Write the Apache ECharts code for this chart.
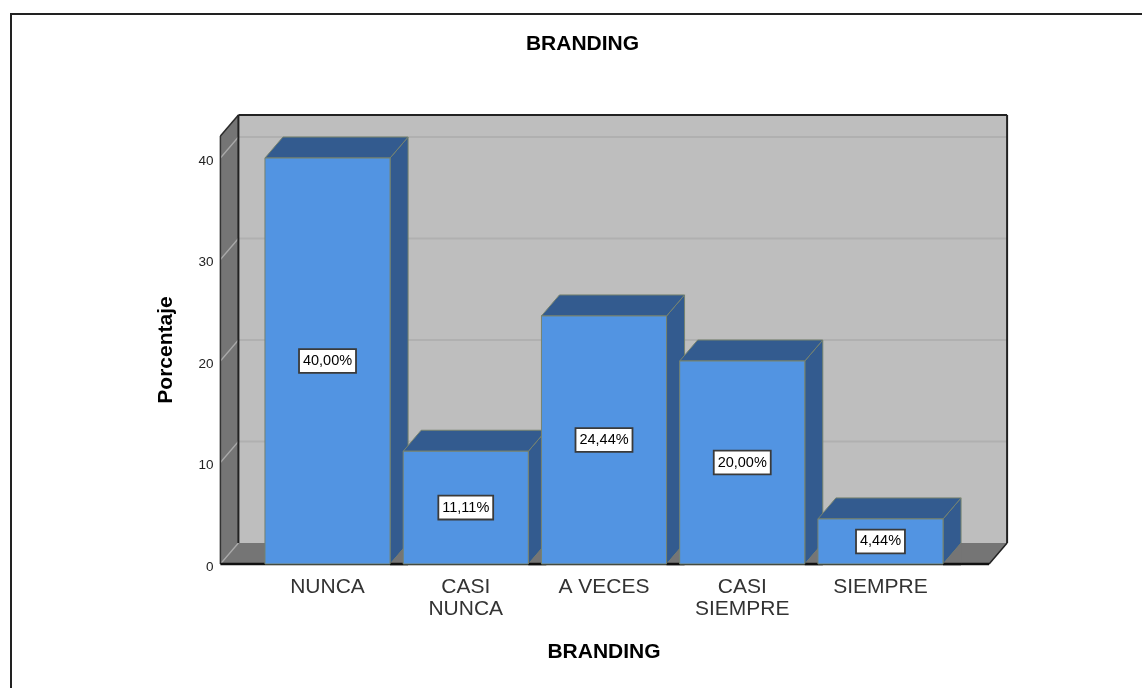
<!DOCTYPE html>
<html>
<head>
<meta charset="utf-8">
<style>html,body{margin:0;padding:0;background:#fff}#chart{width:1142px;height:688px}</style>
<script src="https://cdn.jsdelivr.net/npm/echarts@6/dist/echarts.min.js"></script>
</head>
<body>
<div id="chart"></div>
<script>
const categories = ['NUNCA', 'CASI\nNUNCA', 'A VECES', 'CASI\nSIEMPRE', 'SIEMPRE'];
const percentages = [40.00, 11.11, 24.44, 20.00, 4.44];
const yTicks = [0, 10, 20, 30, 40];
const yMax = 42.17;

// Pseudo-3D depth of the chart box, in pixels
const DEPTH_X = 18, DEPTH_Y = -21;
const FONT = '"Liberation Sans", Arial, sans-serif';
const EDGE = '#76836f';

function poly(points, fill, stroke, lineWidth) {
  return {
    type: 'polygon',
    shape: { points },
    style: { fill, stroke: stroke || 'none', lineWidth: lineWidth || 0 }
  };
}
function line(x1, y1, x2, y2, stroke, lineWidth) {
  return {
    type: 'line',
    shape: { x1, y1, x2, y2 },
    style: { stroke, lineWidth: lineWidth || 1 }
  };
}

// Back wall, side wall, floor and the gridlines that wrap around them
function renderBox(params, api) {
  const band = api.size([1, 0])[0];
  const x0 = api.coord([0, 0])[0] - band / 2 - 38;
  const x1 = api.coord([4, 0])[0] + band / 2 + 39.5;
  const y0 = api.coord([0, 0])[1];
  const yT = api.coord([0, yMax])[1];
  const bx0 = x0 + DEPTH_X, bx1 = x1 + DEPTH_X;
  const children = [
    poly([[bx0, yT + DEPTH_Y], [bx1, yT + DEPTH_Y], [bx1, y0 + DEPTH_Y], [bx0, y0 + DEPTH_Y]], '#bebebe'),
    poly([[x0, yT], [bx0, yT + DEPTH_Y], [bx0, y0 + DEPTH_Y], [x0, y0]], '#757575'),
    poly([[x0, y0], [bx0, y0 + DEPTH_Y], [bx1, y0 + DEPTH_Y], [x1, y0]], '#757575')
  ];
  yTicks.forEach(function (v) {
    const y = api.coord([0, v])[1];
    children.push(line(x0, y, bx0, y + DEPTH_Y, '#a9a9a9', 1.3));
    if (v > 0) children.push(line(bx0, y + DEPTH_Y, bx1, y + DEPTH_Y, '#b0b0b0', 2));
  });
  children.push(
    line(x0, y0, x0, yT, '#333', 1.5),
    line(x0, yT, bx0, yT + DEPTH_Y, '#2a2a2a', 1.5),
    line(bx0, yT + DEPTH_Y, bx1, yT + DEPTH_Y, '#222', 2),
    line(bx0, yT + DEPTH_Y, bx0, y0 + DEPTH_Y, '#222', 2),
    line(bx1, yT + DEPTH_Y, bx1, y0 + DEPTH_Y, '#222', 2),
    line(bx1, y0 + DEPTH_Y, x1, y0, '#222', 1.5),
    line(x0, y0, x1, y0, '#111', 2.5)
  );
  return { type: 'group', children };
}

// One extruded bar: side face, top face, front face and its value box
function renderBar(params, api) {
  const idx = api.value(0), val = api.value(1);
  const top = api.coord([idx, val]);
  const base = api.coord([idx, 0]);
  const w = api.size([1, 0])[0] * 0.905;
  const l = top[0] - w / 2, r = top[0] + w / 2;
  const dx = DEPTH_X, dy = DEPTH_Y;
  const label = val.toFixed(2).replace('.', ',') + '%';
  return {
    type: 'group',
    children: [
      poly([[r, top[1]], [r + dx, top[1] + dy], [r + dx, base[1] + dy], [r, base[1]]], '#335b8f', EDGE, 1),
      poly([[l, top[1]], [l + dx, top[1] + dy], [r + dx, top[1] + dy], [r, top[1]]], '#335b8f', EDGE, 1),
      // floor left visible at the foot of the side face
      poly([[r, base[1]], [r + dx, base[1] + dy], [r + dx, base[1]]], '#757575'),
      line(r, base[1], r + dx, base[1], '#111', 2.5),
      poly([[l, top[1]], [r, top[1]], [r, base[1]], [l, base[1]]], '#5294e2', EDGE, 1),
      {
        type: 'text',
        x: top[0],
        y: (top[1] + base[1]) / 2,
        style: {
          text: label,
          font: '14.5px ' + FONT,
          fill: '#000',
          align: 'center',
          verticalAlign: 'middle',
          backgroundColor: '#fff',
          borderColor: '#3a3a3a',
          borderWidth: 1.8,
          padding: [4, 3, 3, 3]
        }
      }
    ]
  };
}

const chart = echarts.init(document.getElementById('chart'), null, { renderer: 'canvas' });
chart.setOption({
  animation: false,
  backgroundColor: '#fff',
  title: {
    text: 'BRANDING',
    left: 582.5,
    top: 34,
    padding: 0,
    textAlign: 'center',
    textStyle: { fontFamily: FONT, fontSize: 21, fontWeight: 'bold', color: '#000' }
  },
  grid: { left: 258.4, top: 136, width: 691.2, height: 428, containLabel: false },
  xAxis: {
    type: 'category',
    data: categories,
    name: 'BRANDING',
    nameLocation: 'middle',
    nameGap: 78,
    nameTextStyle: { fontFamily: FONT, fontSize: 21, fontWeight: 'bold', color: '#000' },
    axisLine: { show: false },
    axisTick: { show: false },
    axisLabel: {
      fontFamily: FONT, fontSize: 21, color: '#333',
      margin: 12, lineHeight: 22, interval: 0, verticalAlign: 'top'
    }
  },
  yAxis: {
    type: 'value',
    min: 0,
    max: yMax,
    offset: 38,
    name: 'Porcentaje',
    nameLocation: 'middle',
    nameRotate: 90,
    nameGap: 44,
    nameTextStyle: { fontFamily: FONT, fontSize: 21, fontWeight: 'bold', color: '#000' },
    axisLine: { show: false },
    axisTick: { show: false },
    splitLine: { show: false },
    axisLabel: {
      customValues: yTicks,
      fontFamily: FONT, fontSize: 13.5, color: '#222', margin: 7,
      verticalAlign: 'top', lineHeight: 6
    }
  },
  series: [
    {
      type: 'custom',
      coordinateSystem: 'cartesian2d',
      renderItem: renderBox,
      clip: false,
      silent: true,
      z: 1,
      data: [[0, 0]]
    },
    {
      type: 'custom',
      coordinateSystem: 'cartesian2d',
      renderItem: renderBar,
      clip: false,
      z: 2,
      encode: { x: 0, y: 1 },
      data: percentages.map(function (v, i) { return [i, v]; })
    }
  ],
  graphic: [
    { type: 'line', shape: { x1: 10, y1: 14, x2: 1142, y2: 14 }, style: { stroke: '#222', lineWidth: 2 } },
    { type: 'line', shape: { x1: 11, y1: 14, x2: 11, y2: 688 }, style: { stroke: '#222', lineWidth: 2 } }
  ]
});
</script>
</body>
</html>
